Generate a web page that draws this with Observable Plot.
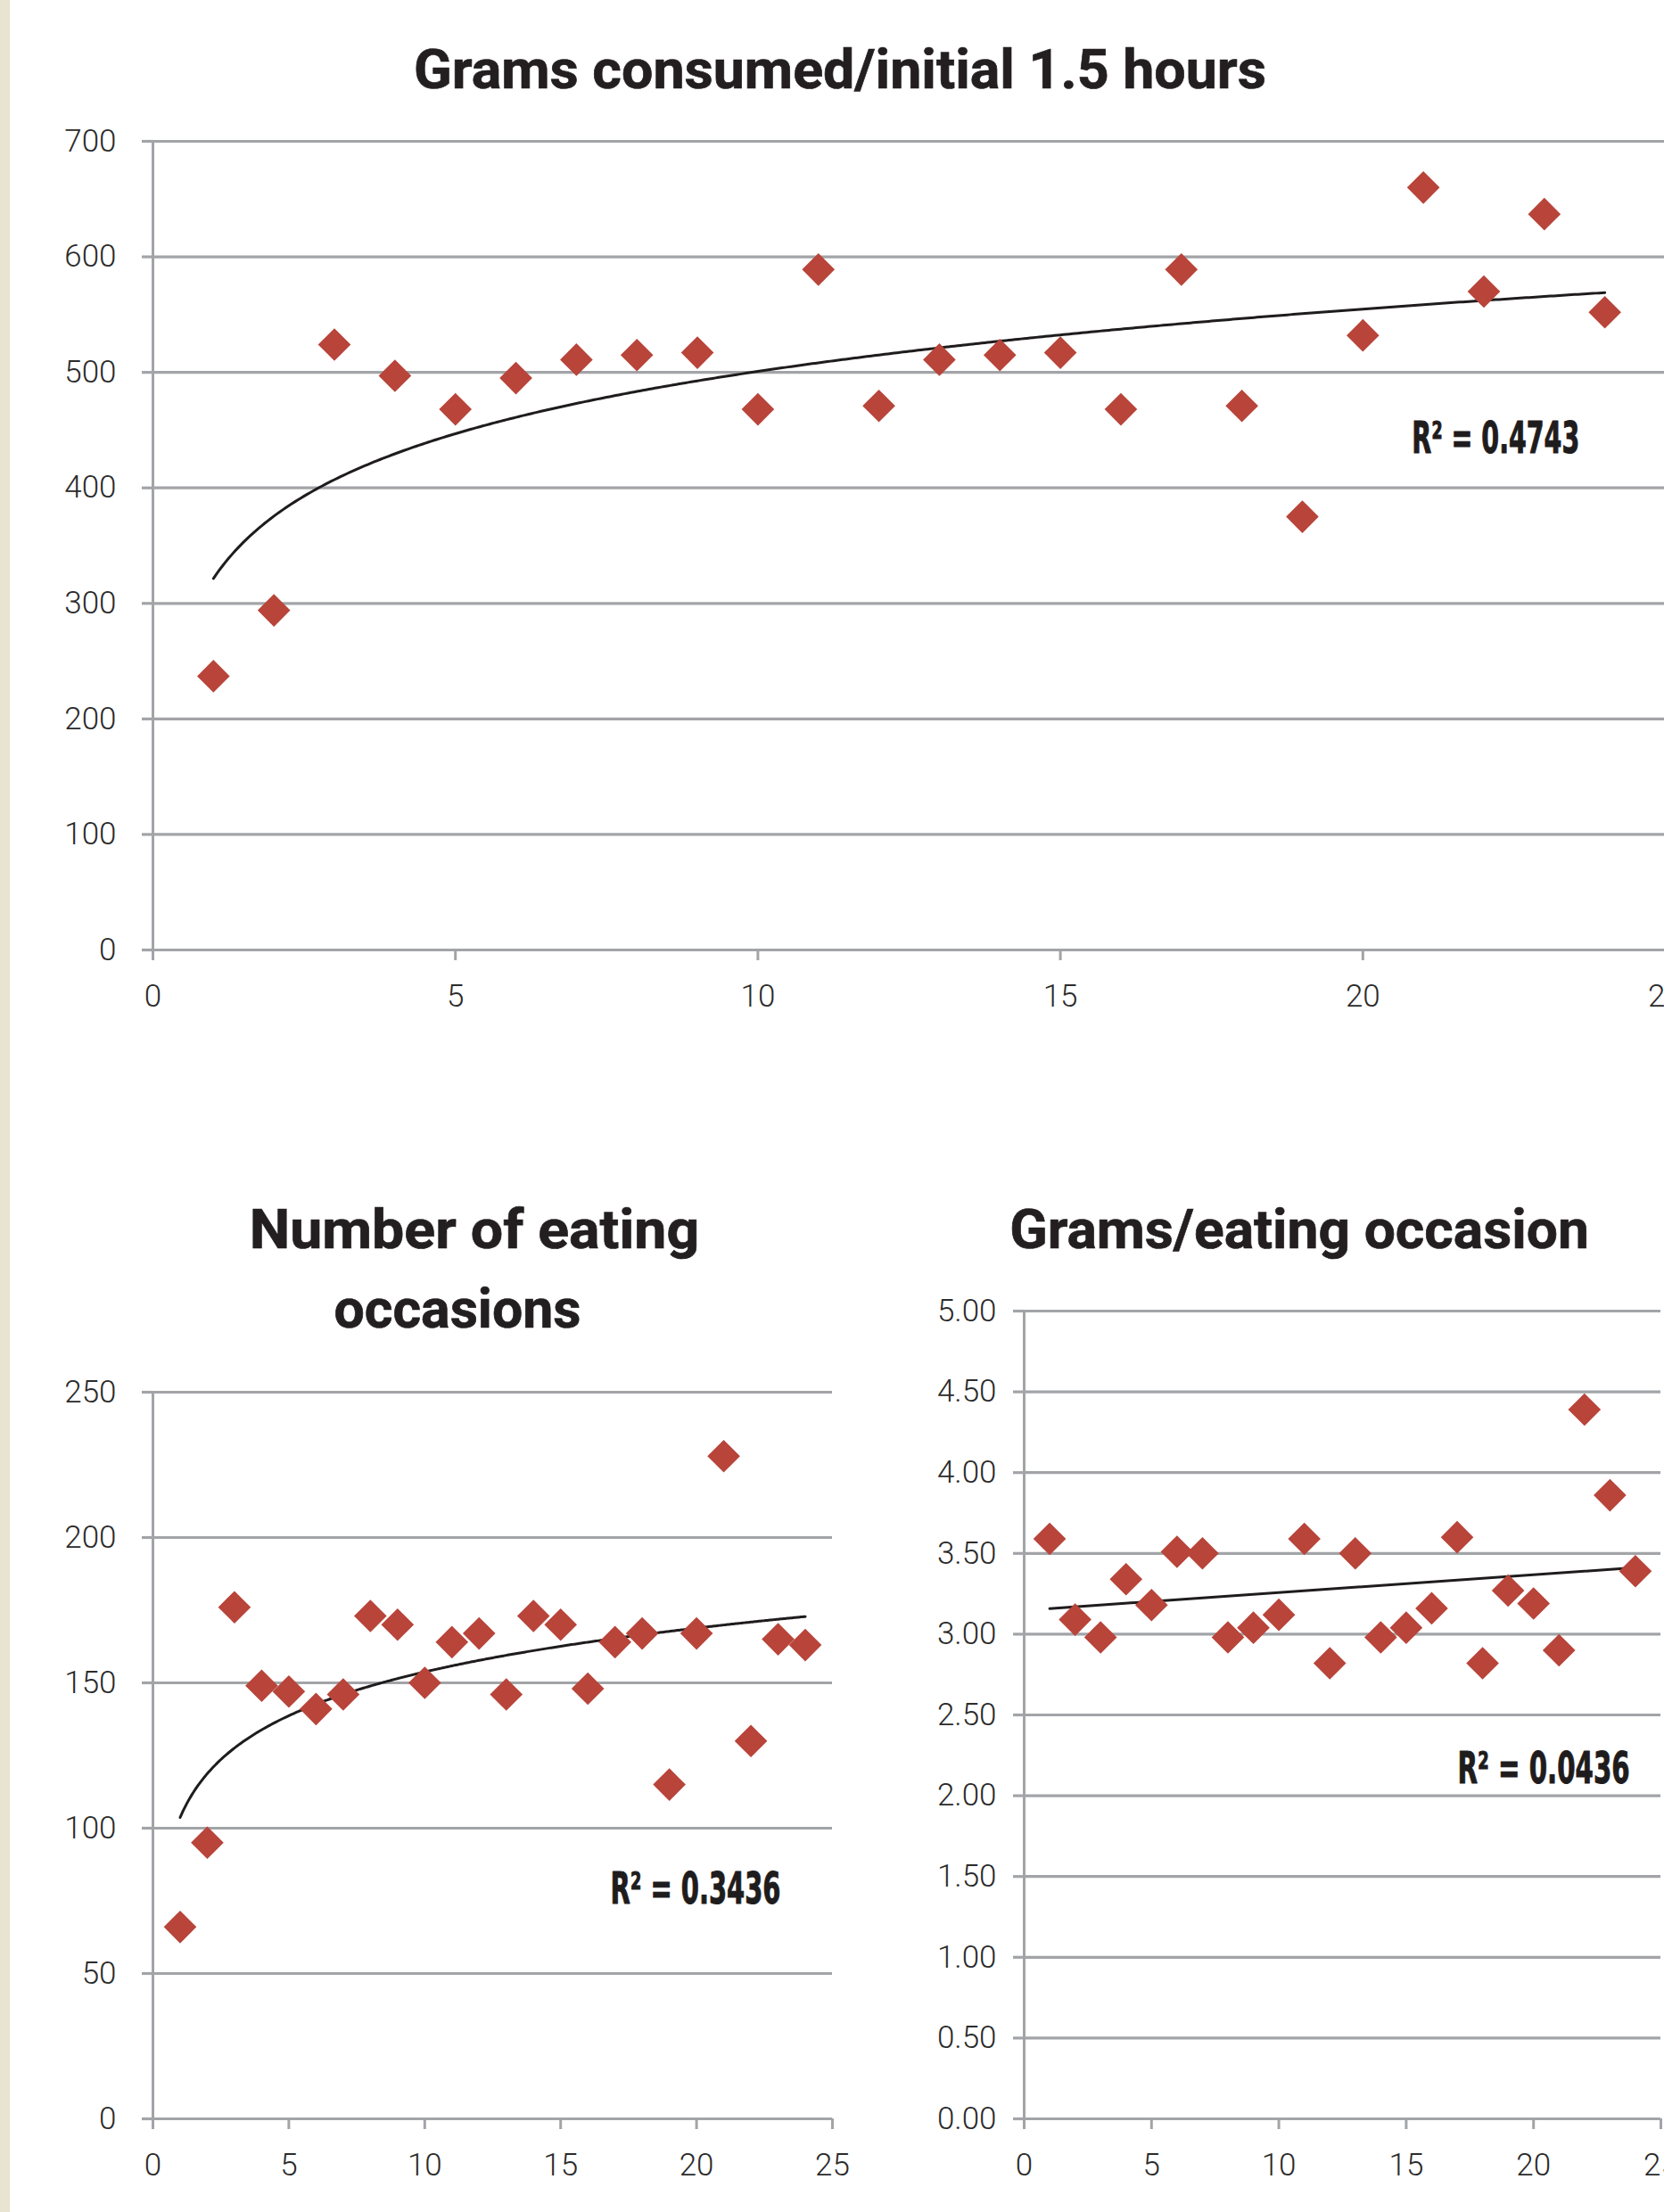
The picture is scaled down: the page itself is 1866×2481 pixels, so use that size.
<!DOCTYPE html>
<html>
<head>
<meta charset="utf-8">
<script src="https://cdn.jsdelivr.net/npm/d3@7"></script>
<script src="https://cdn.jsdelivr.net/npm/@observablehq/plot@0.6"></script>
<style>
  html, body { margin: 0; padding: 0; background: #ffffff; }
  body { width: 1866px; height: 2481px; position: relative; overflow: hidden; }
  #strip { position: absolute; left: 0; top: 0; width: 11px; height: 2481px; background: #e9e3d1; }
  .title { position: absolute; white-space: nowrap; font-family: Roboto, "Open Sans", "Noto Sans", sans-serif;
           font-weight: 700; font-size: 61px; line-height: 60px; color: #231f20; transform-origin: center center;
           -webkit-text-stroke: 0.7px #231f20; }
</style>
</head>
<body>
<div id="strip"></div>
<script>
// ---------------- data ----------------
const days = [1, 2, 3, 4, 5, 6, 7, 8, 9, 10, 11, 12, 13, 14, 15, 16, 17, 18, 19, 20, 21, 22, 23, 24];
const gramsInitial = [237, 294, 524, 497, 468, 495, 511, 515, 517, 468, 589, 471, 511, 515, 517, 468, 589, 471, 375, 532, 660, 570, 637, 552];
const eatingOccasions = [66, 95, 176, 149, 147, 141, 146, 173, 170, 150, 164, 167, 146, 173, 170, 148, 164, 167, 115, 167, 228, 130, 165, 163];
const gramsPerOccasion = [3.59, 3.09, 2.98, 3.34, 3.18, 3.51, 3.50, 2.98, 3.04, 3.12, 3.59, 2.82, 3.50, 2.98, 3.04, 3.16, 3.60, 2.82, 3.27, 3.19, 2.90, 4.39, 3.86, 3.39];

const xTicks = [0, 5, 10, 15, 20, 25];
const yTicksGrams = [0, 100, 200, 300, 400, 500, 600, 700];
const yTicksOccasions = [0, 50, 100, 150, 200, 250];
const yTicksRatio = [0, 0.5, 1, 1.5, 2, 2.5, 3, 3.5, 4, 4.5, 5];

const titles = ["Grams consumed/initial 1.5 hours", "Number of eating", "occasions", "Grams/eating occasion"];
const rSquaredLabels = ["R\u00b2 = 0.4743", "R\u00b2 = 0.3436", "R\u00b2 = 0.0436"];

// ---------------- style ----------------
const GRID = "#a2a4a7";
const TEXT = "#2b2b2b";
const INK = "#1f1c1d";
const RED = "#b8443a";

function logFit(xs, ys) {
  const lx = xs.map(Math.log);
  const mx = d3.mean(lx), my = d3.mean(ys);
  const a = d3.sum(lx, (v, i) => (v - mx) * (ys[i] - my)) / d3.sum(lx, v => (v - mx) ** 2);
  return {a, b: my - a * mx};
}

function makeChart(cfg) {
  const rows = days.map((d, i) => ({x: d, y: cfg.values[i]}));
  const marks = [
    Plot.gridY(cfg.yTicks, {stroke: GRID, strokeOpacity: 1, strokeWidth: 3.2}),
    Plot.ruleX([0], {stroke: GRID, strokeWidth: 3}),
    Plot.axisY(cfg.yTicks, {tickSize: 12, tickPadding: cfg.yPad, stroke: GRID, strokeWidth: 3.2, fill: TEXT,
                            tickFormat: cfg.yFormat, label: null}),
    Plot.axisX(xTicks, {tickSize: 12, tickPadding: 27, stroke: GRID, strokeWidth: 3, fill: TEXT, label: null})
  ];
  if (cfg.fit === "log") {
    const {a, b} = logFit(days, cfg.values);
    const [x0, x1] = d3.extent(days);
    const xs = d3.range(x0, x1 + 1e-9, 0.05);
    marks.push(Plot.line(xs, {x: d => d, y: d => a * Math.log(d) + b, stroke: INK, strokeWidth: 3}));
  } else {
    marks.push(Plot.linearRegressionY(rows, {x: "x", y: "y", stroke: INK, strokeWidth: 3, ci: 0}));
  }
  marks.push(Plot.dot(rows, {x: "x", y: "y", symbol: "diamond2", r: 16.5, fill: RED, stroke: "none"}));
  marks.push(Plot.text([cfg.note], {x: "x", y: "y", text: "label", textAnchor: "start", lineAnchor: "middle",
    fontSize: 49, fontWeight: 700, fill: INK, stroke: INK, strokeWidth: 1,
    fontFamily: '"Liberation Sans Narrow", "DejaVu Sans Condensed", Roboto, sans-serif'}));

  const svg = Plot.plot({
    width: cfg.width, height: cfg.height,
    marginLeft: cfg.ml, marginRight: cfg.mr, marginTop: cfg.mt, marginBottom: cfg.mb,
    x: {domain: [0, 25]},
    y: {domain: cfg.yDomain},
    style: {fontFamily: 'Roboto, "Open Sans", sans-serif', fontWeight: 300, fontSize: "35px",
            color: TEXT, background: "transparent", overflow: "visible", maxWidth: "none"},
    marks
  });
  d3.select(svg).selectAll("text")
    .filter(function() { return this.textContent.startsWith("R\u00b2"); })
    .attr("textLength", cfg.noteWidth).attr("lengthAdjust", "spacingAndGlyphs");
  svg.style.position = "absolute";
  svg.style.left = cfg.left + "px";
  svg.style.top = cfg.top + "px";
  svg.style.width = cfg.width + "px";
  svg.style.height = cfg.height + "px";
  document.body.appendChild(svg);
}

makeChart({
  values: gramsInitial, yTicks: yTicksGrams, yDomain: [0, 700], yFormat: d3.format("d"), fit: "log",
  left: 0, top: 110, width: 1900, height: 1060, ml: 171, mr: 33, mt: 48, mb: 105, yPad: 29,
  note: {x: 20.81, y: 442, label: rSquaredLabels[0]}, noteWidth: 188
});
makeChart({
  values: eatingOccasions, yTicks: yTicksOccasions, yDomain: [0, 250], yFormat: d3.format("d"), fit: "log",
  left: 0, top: 1520, width: 960, height: 956, ml: 171, mr: 27, mt: 41, mb: 100, yPad: 29,
  note: {x: 16.83, y: 78.8, label: rSquaredLabels[1]}, noteWidth: 191
});
makeChart({
  values: gramsPerOccasion, yTicks: yTicksRatio, yDomain: [0, 5], yFormat: d3.format(".2f"), fit: "linear",
  left: 980, top: 1430, width: 912, height: 1046, ml: 168, mr: 30, mt: 40, mb: 100, yPad: 19,
  note: {x: 17.02, y: 2.163, label: rSquaredLabels[2]}, noteWidth: 193
});

// ---------------- titles ----------------
const titleSpecs = [
  {text: titles[0], cx: 942, top: 48, w: 956},
  {text: titles[1], cx: 532, top: 1349, w: 505},
  {text: titles[2], cx: 513, top: 1438, w: 277},
  {text: titles[3], cx: 1457, top: 1349, w: 650}
];
for (const t of titleSpecs) {
  const el = document.createElement("div");
  el.className = "title";
  el.textContent = t.text;
  el.style.left = t.cx + "px";
  el.style.top = t.top + "px";
  document.body.appendChild(el);
  const s = t.w / el.offsetWidth;
  el.style.transform = `translateX(-50%) scaleX(${s})`;
}
</script>
</body>
</html>
